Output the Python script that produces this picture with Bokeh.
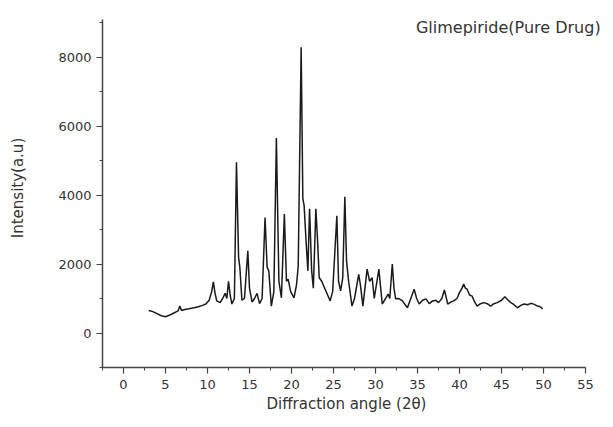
from bokeh.plotting import figure
from bokeh.models import SingleIntervalTicker, Label, Range1d, Title
from bokeh.embed import file_html
from bokeh.resources import INLINE

# Diffraction angle (2θ) and intensity
two_theta = [3.0, 3.5, 4.0, 4.5, 5.0, 5.5, 6.0, 6.5, 6.7, 6.9, 7.3, 7.8, 8.4, 8.9, 9.4, 9.8,
             10.2, 10.5, 10.7, 10.9, 11.1, 11.5, 11.8, 12.1, 12.3, 12.5, 12.7, 12.9, 13.2,
             13.45, 13.7, 13.85, 14.1, 14.4, 14.8, 15.0, 15.3, 15.6, 15.9, 16.2, 16.5, 16.85,
             17.1, 17.3, 17.6, 17.9, 18.2, 18.5, 18.8, 19.15, 19.4, 19.6, 19.9, 20.3, 20.6,
             20.8, 21.15, 21.35, 21.5, 21.75, 21.95, 22.15, 22.4, 22.6, 22.9, 23.1, 23.3,
             23.6, 24.0, 24.3, 24.6, 24.9, 25.4, 25.6, 25.85, 26.1, 26.35, 26.55, 26.8, 27.2,
             27.5, 28.0, 28.2, 28.5, 29.0, 29.3, 29.6, 29.85, 30.4, 30.8, 31.2, 31.5, 31.7,
             32.0, 32.2, 32.4, 32.8, 33.2, 33.8, 34.2, 34.6, 34.9, 35.2, 35.6, 36.0, 36.4,
             36.8, 37.2, 37.5, 37.9, 38.2, 38.6, 39.0, 39.3, 39.7, 40.0, 40.3, 40.5, 40.7,
             40.9, 41.2, 41.5, 41.8, 42.1, 42.5, 42.9, 43.3, 43.7, 44.1, 44.5, 45.0, 45.4,
             45.8, 46.1, 46.5, 46.9, 47.3, 47.7, 48.1, 48.5, 48.9, 49.3, 49.6, 49.9]
intensity = [650, 620, 560, 500, 470, 520, 580, 640, 780, 650, 680, 700, 730, 760, 800, 840,
             950, 1200, 1480, 1150, 930, 880, 1000, 1150, 1000, 1500, 1100, 840, 1000,
             4950, 2200, 1900, 950, 1000, 2380, 1300, 900, 1000, 1150, 850, 1000, 3350,
             1900, 1800, 780, 1200, 5650, 1500, 1020, 3450, 1500, 1560, 1200, 1020, 1400,
             1940, 8280, 3900, 3700, 2600, 1800, 3600, 1800, 1300, 3600, 2700, 1600,
             1500, 1270, 1100, 930, 1200, 3400, 1500, 1220, 1600, 3950, 2100, 1500, 780,
             1000, 1700, 1400, 780, 1850, 1500, 1600, 1000, 1850, 840, 1000, 1130, 1000,
             2000, 1300, 990, 1000, 930, 730, 1000, 1270, 1000, 840, 950, 990, 850,
             930, 950, 880, 1000, 1250, 840, 900, 930, 1000, 1170, 1300, 1420, 1300,
             1270, 1100, 1070, 900, 780, 850, 880, 850, 780, 850, 880, 950, 1050,
             950, 880, 820, 730, 800, 840, 820, 860, 830, 780, 760, 700]

title_text = "Glimepiride(Pure Drug)"
x_label = "Diffraction angle (2θ)"
y_label = "Intensity(a.u)"

FONT = "DejaVu Sans"

p = figure(width=613, height=427, output_backend="svg", toolbar_location=None,
           x_range=Range1d(-2.5, 57.5), y_range=Range1d(-1000, 9406),
           min_border_left=102, min_border_right=7, min_border_top=8, min_border_bottom=60)
p.outline_line_color = None
p.grid.visible = False
p.background_fill_color = "white"
p.border_fill_color = "white"

p.line(two_theta, intensity, line_color="#1a1a1a", line_width=1.5)

p.xaxis.ticker = SingleIntervalTicker(interval=5, num_minor_ticks=2)
p.yaxis.ticker = SingleIntervalTicker(interval=2000, num_minor_ticks=2)
p.xaxis.bounds = (-2.5, 55)
p.yaxis.bounds = (-1000, 9100)

for ax in (p.xaxis, p.yaxis):
    ax.axis_line_color = "#444444"
    ax.axis_line_width = 1.5
    ax.major_tick_line_color = "#444444"
    ax.minor_tick_line_color = "#444444"
    ax.major_tick_line_width = 1.2
    ax.minor_tick_line_width = 1.0
    ax.major_tick_out = 6
    ax.major_tick_in = 0
    ax.minor_tick_out = 3
    ax.minor_tick_in = 0
    ax.major_label_text_font = FONT
    ax.major_label_text_font_size = "13px"
    ax.major_label_text_color = "#333333"
    ax.axis_label_text_font = FONT
    ax.axis_label_text_font_size = "15px"
    ax.axis_label_text_font_style = "normal"
    ax.axis_label_text_color = "#333333"

p.yaxis.axis_label = y_label
p.xaxis.major_label_standoff = 6
p.yaxis.major_label_standoff = 5
p.yaxis.axis_label_standoff = 28

# x-axis label centred under the drawn axis (which ends at 55, not at the frame edge)
p.add_layout(Title(text=x_label, align="left", offset=164, vertical_align="middle",
                   text_font=FONT, text_font_size="15px", text_font_style="normal",
                   text_color="#333333", standoff=4), "below")

p.add_layout(Label(x=56.8, y=8860, text=title_text, text_align="right",
                   text_baseline="alphabetic", text_font=FONT,
                   text_font_size="16px", text_color="#333333"))

open("out.html", "w").write(file_html(p, INLINE))
